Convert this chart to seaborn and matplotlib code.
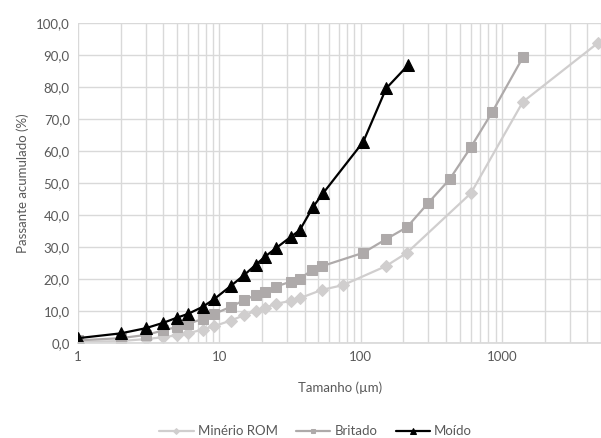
import numpy as np
import pandas as pd
import seaborn as sns
import matplotlib.pyplot as plt
from matplotlib.ticker import FuncFormatter, LogLocator, FixedLocator

# particle size (um) and cumulative passing (%)
rom_x = [1, 2, 3, 4, 5, 6, 7.6, 9.1, 12, 15, 18, 21, 25, 32, 37, 53, 75,
         150, 212, 600, 1400, 4750]
rom_y = [0.3, 0.6, 1.2, 1.8, 2.4, 3.0, 4.2, 5.2, 7.0, 8.7, 10.0, 11.0, 12.2,
         13.2, 14.0, 16.6, 18.1, 24.0, 28.2, 46.8, 75.4, 93.8]

britado_x = [1, 2, 3, 4, 5, 6, 7.6, 9.1, 12, 15, 18, 21, 25, 32, 37, 45, 53,
             104, 150, 212, 300, 425, 600, 850, 1400]
britado_y = [0.8, 1.5, 2.5, 3.9, 5.0, 6.0, 7.5, 9.0, 11.3, 13.4, 15.0, 16.0,
             17.6, 19.2, 20.0, 22.8, 24.0, 28.2, 32.4, 36.2, 43.8, 51.2, 61.2,
             72.2, 89.3]

moido_x = [1, 2, 3, 4, 5, 6, 7.6, 9.1, 12, 15, 18, 21, 25, 32, 37, 46, 54,
           104, 151, 216]
moido_y = [1.5, 3.0, 4.6, 6.3, 7.9, 9.1, 11.3, 13.6, 17.8, 21.3, 24.4, 27.0,
           29.6, 33.2, 35.3, 42.6, 46.8, 62.9, 79.6, 86.9]

series = [
    ("Minério ROM", rom_x, rom_y, "#D0CECE", "D", 6),
    ("Britado", britado_x, britado_y, "#AEAAAA", "s", 6.5),
    ("Moído", moido_x, moido_y, "#000000", "^", 9),
]

sns.set_theme(style="white")
plt.rcParams['font.family'] = ['Lato', 'DejaVu Sans']

fig = plt.figure(figsize=(6.01, 4.38), dpi=100)
ax = fig.add_axes([0.130, 0.217, 0.870, 0.730])

for name, xs, ys, color, mk, ms in series:
    df = pd.DataFrame({"size": xs, "passing": ys})
    sns.lineplot(data=df, x="size", y="passing", ax=ax, color=color,
                 marker=mk, markersize=ms, markeredgecolor=color,
                 linewidth=1.6, label=name)

ax.set_xscale("log")
ax.set_xlim(1, 5000)
ax.set_ylim(0, 100)
ax.set_yticks(np.arange(0, 101, 10))
ax.yaxis.set_major_formatter(FuncFormatter(lambda v, p: f"{v:.1f}".replace(".", ",")))
ax.xaxis.set_major_locator(FixedLocator([1, 10, 100, 1000]))
ax.xaxis.set_major_formatter(FuncFormatter(lambda v, p: f"{v:g}"))
ax.xaxis.set_minor_locator(LogLocator(base=10, subs=np.arange(2, 10)))
ax.xaxis.set_minor_formatter(FuncFormatter(lambda v, p: ""))

ax.grid(True, which="major", color="#D9D9D9", linewidth=1)
ax.grid(True, which="minor", axis="x", color="#D9D9D9", linewidth=1)
ax.set_axisbelow(True)
for s in ["top", "right", "left"]:
    ax.spines[s].set_visible(False)
ax.spines["bottom"].set_color("#D9D9D9")

ax.tick_params(axis="both", which="both", length=0, labelsize=9.5,
               labelcolor="#595959", pad=6)
ax.set_xlabel("Tamanho (µm)", fontsize=9.5, color="#595959", labelpad=13)
ax.set_ylabel("Passante acumulado (%)", fontsize=9.5, color="#595959", labelpad=5)

handles, labels = ax.get_legend_handles_labels()
ax.get_legend().remove()
fig.legend(handles, labels, loc="center", bbox_to_anchor=(0.525, 0.015), ncol=3,
           frameon=False, fontsize=9.5, labelcolor="#595959",
           handlelength=2.6, handletextpad=0.3, columnspacing=1.4,
           markerscale=0.5)

fig.savefig("out.png", dpi=100)
